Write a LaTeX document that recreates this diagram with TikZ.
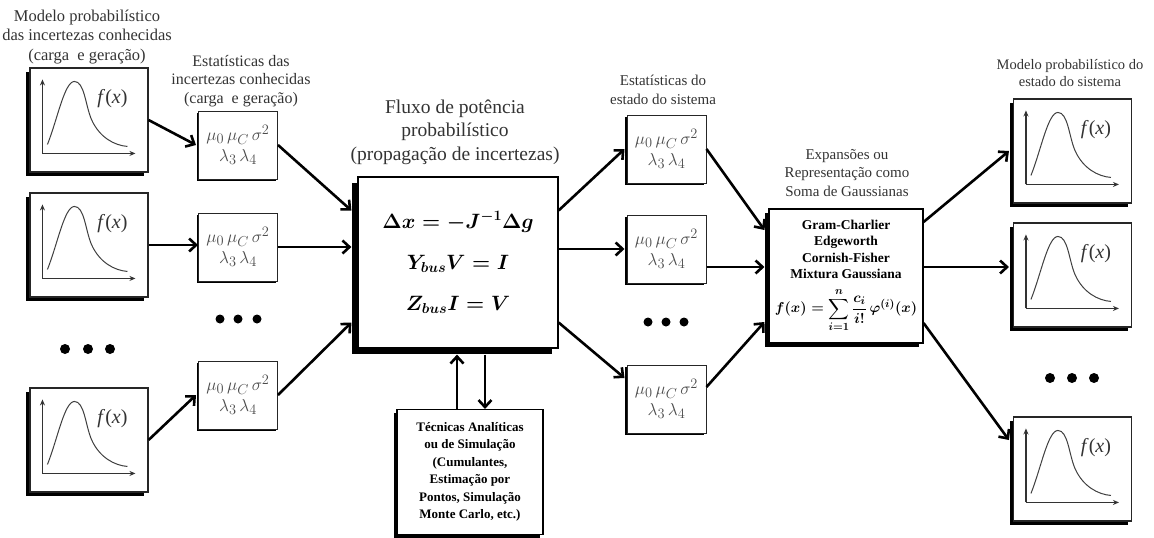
\documentclass[tikz,border=0pt]{standalone}
\usepackage{amsmath}
\usepackage{fontspec}
\setmainfont{Liberation Serif}
\usetikzlibrary{arrows.meta,shadows}
\tikzset{
  shad/.style={drop shadow={shadow xshift=-#1, shadow yshift=-#1, fill=black, opacity=1}},
  pdfbox/.style={draw=black!85, line width=1.1pt, fill=white, minimum width=118pt, minimum height=104pt, inner sep=0pt, shad=4pt},
  statbox/.style={draw=black!85, line width=1pt, fill=white, minimum width=79pt, minimum height=68pt, inner sep=0pt, align=center, text=black!70, font=\fontsize{19}{21}\selectfont, shad=2pt},
  mainbox/.style={draw, line width=1.2pt, fill=white, minimum width=200pt, minimum height=171pt, inner sep=0pt, align=center, font=\fontsize{22}{41}\selectfont\boldmath, shad=6pt},
  gcbox/.style={draw, line width=1.1pt, fill=white, minimum width=154pt, minimum height=134pt, inner sep=0pt, align=center, font=\fontsize{13.5}{16.5}\selectfont\bfseries\boldmath, shad=4pt},
  tecbox/.style={draw, line width=1.1pt, fill=white, minimum width=146pt, minimum height=125pt, inner sep=0pt, align=center, font=\fontsize{13}{17.5}\selectfont\bfseries, shad=3pt},
  lbl/.style={align=center, text=black!80, font=\fontsize{16.5}{19.5}\selectfont, inner sep=0pt},
  flow/.style={line width=2.6pt, -{Straight Barb[length=7pt,width=13pt]}},
  axisline/.style={line width=1.1pt, black!80, -{Stealth[length=6pt,width=5pt]}},
  pdfcurve/.style={line width=1pt, black!75},
  fx/.style={font=\fontsize{20}{20}\selectfont, text=black!80, inner sep=0pt}
}
\newcommand{\drawpdfplot}[1]{%
  \draw[axisline] ([shift={(13,86)}]#1.north west) -- ([shift={(13,12)}]#1.north west);
  \draw[axisline] ([shift={(13,86)}]#1.north west) -- ([shift={(106,86)}]#1.north west);
  \draw[pdfcurve] ([shift={(18,77)}]#1.north west)
     .. controls ([shift={(28,52)}]#1.north west) and ([shift={(35,14)}]#1.north west) .. ([shift={(45,14)}]#1.north west)
     .. controls ([shift={(55,14)}]#1.north west) and ([shift={(56,38)}]#1.north west) .. ([shift={(62,52)}]#1.north west)
     .. controls ([shift={(70,70)}]#1.north west) and ([shift={(85,78)}]#1.north west) .. ([shift={(98,79)}]#1.north west);
  \node[fx] at ([shift={(83,31)}]#1.north west) {\textit{f}(\textit{x})};
}
\begin{document}
\begin{tikzpicture}[x=1pt,y=-1pt]
\useasboundingbox (0,0) rectangle (1154,538);
% labels
\node[lbl] (lblA) at (87,37) {Modelo probabilístico\\das incertezas conhecidas\\(carga\ \ e geração)};
\node[lbl, font=\fontsize{16}{18.5}\selectfont] (lblB) at (241,81) {Estatísticas das\\incertezas conhecidas\\(carga\ \ e geração)};
\node[lbl, font=\fontsize{19.5}{23.5}\selectfont] (lblC) at (455,132) {Fluxo de potência\\probabilístico\\(propagação de incertezas)};
\node[lbl, font=\fontsize{15}{18.5}\selectfont] (lblD) at (663,90) {Estatísticas do\\estado do sistema};
\node[lbl, font=\fontsize{15}{18.5}\selectfont] (lblE) at (847,173) {Expansões ou\\Representação como\\Soma de Gaussianas};
\node[lbl, font=\fontsize{14.5}{17.5}\selectfont] (lblF) at (1070,73) {Modelo probabilístico do\\estado do sistema};
% pdf boxes left
\node[pdfbox] (p1) at (89,120) {};
\node[pdfbox] (p2) at (89,245) {};
\node[pdfbox] (p3) at (89,440) {};
% stats left
\node[statbox] (s1) at (238,145) {$\mu_0\,\mu_C\,\sigma^2$\\$\lambda_3\,\lambda_4$};
\node[statbox] (s2) at (238,247) {$\mu_0\,\mu_C\,\sigma^2$\\$\lambda_3\,\lambda_4$};
\node[statbox] (s3) at (238,395) {$\mu_0\,\mu_C\,\sigma^2$\\$\lambda_3\,\lambda_4$};
% main box
\node[mainbox] (c) at (458,262.5) {$\Delta x=-J^{-1}\Delta g$\\$Y_{bus}V=I$\\$Z_{bus}I=V$};
% techniques
\node[tecbox] (t) at (470,472) {Técnicas Analíticas\\ou de Simulação\\(Cumulantes,\\Estimação por\\Pontos, Simulação\\Monte Carlo, etc.)};
% stats right
\node[statbox] (r1) at (666.5,149) {$\mu_0\,\mu_C\,\sigma^2$\\$\lambda_3\,\lambda_4$};
\node[statbox] (r2) at (666.5,249) {$\mu_0\,\mu_C\,\sigma^2$\\$\lambda_3\,\lambda_4$};
\node[statbox] (r3) at (666.5,399) {$\mu_0\,\mu_C\,\sigma^2$\\$\lambda_3\,\lambda_4$};
% expansions box
\node[gcbox] (g) at (846,276) {Gram-Charlier\\Edgeworth\\Cornish-Fisher\\Mixtura Gaussiana\\[9pt]{\fontsize{15}{17}\selectfont$f(x)=\displaystyle\sum_{i=1}^{n}\frac{c_i}{i!}\,\varphi^{(i)}(x)$}};
% pdf boxes right
\node[pdfbox] (q1) at (1072.5,151) {};
\node[pdfbox] (q2) at (1072.5,275) {};
\node[pdfbox] (q3) at (1072.5,469) {};
\foreach \n in {p1,p2,p3,q1,q2,q3} {\drawpdfplot{\n}}
% dots
\foreach \x in {65,88,110} \fill (\x,349) circle (5pt);
\foreach \x in {220,238,257} \fill (\x,319) circle (4.5pt);
\foreach \x in {648,666,684} \fill (\x,322) circle (4.5pt);
\foreach \x in {1050,1072,1094} \fill (\x,378) circle (5pt);
% helper coordinates
\coordinate (cw) at ([xshift=-6pt]c.west);
\coordinate (cs) at ([yshift=-6pt]c.south);
\coordinate (gw) at ([xshift=-4pt,yshift=9pt]g.west);
\coordinate (ge) at ([yshift=9pt]g.east);
\coordinate (qw2) at ([xshift=-4pt]q2.west);
\coordinate (tu) at ([xshift=-13pt]t.north);
\coordinate (td) at ([xshift=15pt]t.north);
% arrows
\draw[flow] (p1.east) -- ([xshift=-2pt]s1.west);
\draw[flow] (p2.east) -- (p2.east -| s2.west);
\draw[flow] (p3.east) -- ([xshift=-2pt]s3.west);
\draw[flow] (s1.east) -- ([xshift=-6pt,yshift=52pt]c.west);
\draw[flow] (s2.east) -- (s2.east -| cw);
\draw[flow] (s3.east) -- ([xshift=-6pt,yshift=-60pt]c.west);
\draw[flow] ([yshift=52pt]c.east) -- ([xshift=-2pt]r1.west);
\draw[flow] (c.east |- r2.west) -- ([xshift=-2pt]r2.west);
\draw[flow] ([yshift=-60pt]c.east) -- ([xshift=-2pt,yshift=21pt]r3.west);
\draw[flow] (r1.east) -- ([xshift=-4pt,yshift=46pt]g.west);
\draw[flow] (gw -| r2.east) -- (gw);
\draw[flow] ([yshift=12pt]r3.east) -- ([xshift=-4pt,yshift=-46pt]g.west);
\draw[flow] ([yshift=54pt]g.east) -- ([xshift=-4pt]q1.west);
\draw[flow] (ge) -- (ge -| qw2);
\draw[flow] ([yshift=-47pt]g.east) -- ([xshift=-4pt,yshift=29pt]q3.west);
\draw[flow] (tu) -- (tu |- cs);
\draw[flow] (td |- cs) -- (td);
\end{tikzpicture}
\end{document}
